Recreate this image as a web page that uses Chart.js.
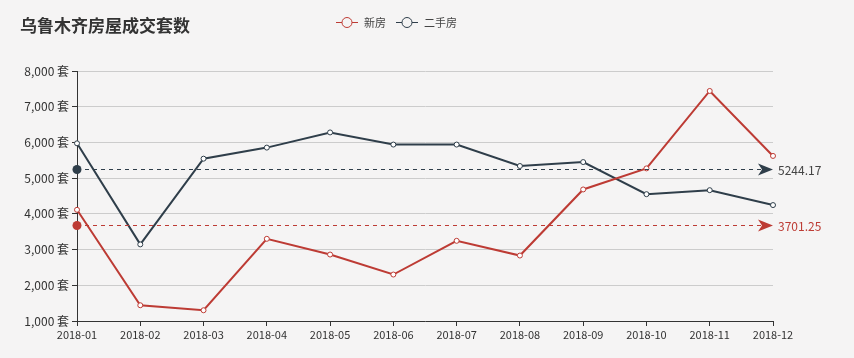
<!DOCTYPE html>
<html><head><meta charset="utf-8">
<script src="https://cdn.jsdelivr.net/npm/chart.js@4"></script>
<style>html,body{margin:0;padding:0;background:#f5f4f4;}#wrap{position:relative;width:854px;height:358px;}</style>
</head><body><div id="wrap"><canvas id="c" width="854" height="358"></canvas></div>
<script>
const titleText = '乌鲁木齐房屋成交套数';
const categories = ['2018-01','2018-02','2018-03','2018-04','2018-05','2018-06','2018-07','2018-08','2018-09','2018-10','2018-11','2018-12'];
const newHouse = [4113,1441,1301,3301,2861,2301,3245,2833,4683,5273,7441,5622];
const secondHand = [5975,3145,5545,5855,6280,5940,5940,5340,5450,4551,4663,4246];
const seriesNames = ['新房','二手房'];
const yTicks = [1000,2000,3000,4000,5000,6000,7000,8000];
const RED = '#bd3b34', DARK = '#2f3e4a';
const FONT = '"Noto Sans CJK SC","Noto Sans",sans-serif';

const avg = a => a.reduce((s,v)=>s+v,0)/a.length;

const deco = {
  id:'deco',
  afterDatasetsDraw(chart){
    const {ctx, chartArea:ca, scales:{y}} = chart;
    ctx.save();
    chart.data.datasets.forEach(ds=>{
      const m = avg(ds.data);
      const py = Math.round(y.getPixelForValue(m))+0.5;
      ctx.strokeStyle = ds.borderColor; ctx.lineWidth = 1;
      ctx.setLineDash([4,4]);
      ctx.beginPath(); ctx.moveTo(ca.left, py); ctx.lineTo(ca.right-8, py); ctx.stroke();
      ctx.setLineDash([]);
      ctx.fillStyle = ds.borderColor;
      ctx.beginPath(); ctx.arc(ca.left, py, 4.5, 0, Math.PI*2); ctx.fill();
      ctx.beginPath(); ctx.moveTo(ca.right, py); ctx.lineTo(ca.right-15, py-6); ctx.lineTo(ca.right-11, py); ctx.lineTo(ca.right-15, py+6); ctx.closePath(); ctx.fill();
      ctx.fillStyle = ds.label === seriesNames[1] ? '#444' : ds.borderColor;
      ctx.font = '12px '+FONT; ctx.textBaseline='middle'; ctx.textAlign='left';
      ctx.fillText(m.toFixed(2), ca.right+5, py+1);
    });
    ctx.restore();
  },
  afterDraw(chart){
    const ctx = chart.ctx;
    ctx.save();
    ctx.fillStyle = '#333';
    ctx.font = 'bold 17px '+FONT; ctx.textBaseline='middle'; ctx.textAlign='left';
    ctx.fillText(titleText, 20, 26);
    const items = [{x:336, c:RED, t:seriesNames[0]},{x:396, c:DARK, t:seriesNames[1]}];
    items.forEach(it=>{
      ctx.strokeStyle = it.c; ctx.lineWidth = 1;
      ctx.beginPath(); ctx.moveTo(it.x, 22.5); ctx.lineTo(it.x+22, 22.5); ctx.stroke();
      ctx.fillStyle = '#f5f4f4';
      ctx.beginPath(); ctx.arc(it.x+11, 22.5, 5, 0, Math.PI*2); ctx.fill(); ctx.stroke();
      ctx.fillStyle = '#444'; ctx.font = '11px '+FONT;
      ctx.fillText(it.t, it.x+28, 23);
    });
    ctx.restore();
  }
};

new Chart(document.getElementById('c'), {
  type:'line',
  data:{labels:categories, datasets:[
    {label:seriesNames[0], data:newHouse, borderColor:RED, backgroundColor:'#fff', borderWidth:2, pointRadius:2.5, pointBorderWidth:1, pointBorderColor:RED, pointBackgroundColor:'#fff', tension:0},
    {label:seriesNames[1], data:secondHand, borderColor:DARK, backgroundColor:'#fff', borderWidth:2, pointRadius:2.5, pointBorderWidth:1, pointBorderColor:DARK, pointBackgroundColor:'#fff', tension:0}
  ]},
  options:{
    responsive:false, animation:false,
    layout:{padding:{top:71, right:81, left:0, bottom:0}},
    plugins:{legend:{display:false}, title:{display:false}, tooltip:{enabled:false}},
    scales:{
      x:{
        offset:false,
        grid:{drawOnChartArea:false, drawTicks:true, tickLength:5, color:'#333', tickColor:'#333'},
        border:{display:true, color:'#333', width:1},
        ticks:{color:'#333', font:{size:11, family:FONT}, padding:2, maxRotation:0, autoSkip:false},
        afterFit(s){ s.height = 37; }
      },
      y:{
        min:1000, max:8000,
        afterBuildTicks(s){ s.ticks = yTicks.map(v=>({value:v})); },
        grid:{color:'#ccc', drawTicks:true, tickLength:5, tickColor:'#333'},
        border:{display:true, color:'#333', width:1},
        ticks:{color:'#333', font:{size:12, family:FONT}, padding:3, callback:v=>v.toLocaleString('en-US')+' 套'},
        afterFit(s){ s.width = 77; }
      }
    }
  },
  plugins:[deco]
});
</script></body></html>
